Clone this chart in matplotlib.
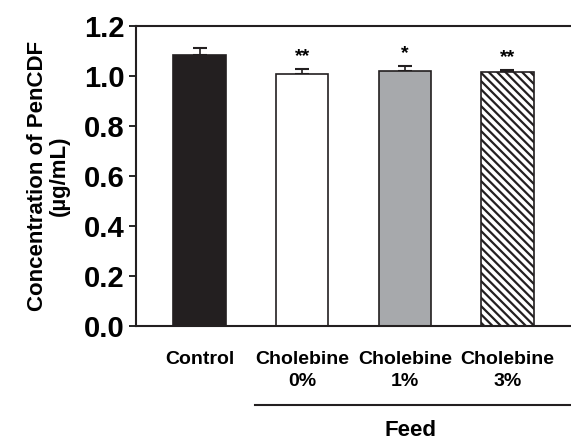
import numpy as np
import matplotlib.pyplot as plt

plt.rcParams['font.family'] = ['Liberation Sans', 'DejaVu Sans']
plt.rcParams['font.weight'] = 'bold'
plt.rcParams['hatch.linewidth'] = 1.6

labels = ["Control", "Cholebine\n0%", "Cholebine\n1%", "Cholebine\n3%"]
values = [1.084, 1.008, 1.022, 1.016]
errors = [0.030, 0.020, 0.018, 0.008]
stars = ["", "**", "*", "**"]
colors = ["#231f20", "white", "#a7a9ac", "white"]
hatches = [None, None, None, "\\\\\\\\"]

fig = plt.figure(figsize=(5.71, 4.41), dpi=100)
ax = fig.add_axes([136/571, 1 - 326/441, 1 - 136/571, 300/441])

x = np.arange(len(values))
for i in x:
    ax.bar(i, values[i], width=0.51, color=colors[i], edgecolor="#231f20",
           linewidth=1.2, hatch=hatches[i], zorder=2)
    ax.errorbar(i, values[i], yerr=[[0], [errors[i]]], fmt="none",
                ecolor="#231f20", elinewidth=1.2, capsize=5, capthick=1.5, zorder=1)
    if stars[i]:
        ax.text(i, values[i] + errors[i] + 0.05, stars[i], ha="center",
                va="center", fontsize=14, fontweight="bold")

ax.set_xlim(-0.62, 3.62)
ax.set_ylim(0, 1.2)
ax.set_yticks(np.arange(0, 1.21, 0.2))
ax.set_yticklabels([f"{v:.1f}" for v in np.arange(0, 1.21, 0.2)],
                   fontsize=21, fontweight="bold")
ax.tick_params(axis="y", length=5, width=1.2, pad=3)
ax.set_xticks(x)
ax.set_xticklabels(labels, fontsize=14, fontweight="bold", linespacing=1.4)
ax.tick_params(axis="x", length=0, pad=18)
ax.spines["right"].set_visible(False)
for s in ["left", "bottom", "top"]:
    ax.spines[s].set_linewidth(1.5)
    ax.spines[s].set_color("#231f20")

ax.set_ylabel("Concentration of PenCDF\n(\u00b5g/mL)", fontsize=16,
              fontweight="bold", labelpad=10, linespacing=1.05)

fig.add_artist(plt.Line2D([255/571, 1.0], [1 - 405/441, 1 - 405/441],
                          color="#231f20", linewidth=1.5))
fig.text(410/571, 1 - 431/441, "Feed", ha="center", va="center",
         fontsize=16, fontweight="bold")

fig.savefig("out.png", dpi=100)
